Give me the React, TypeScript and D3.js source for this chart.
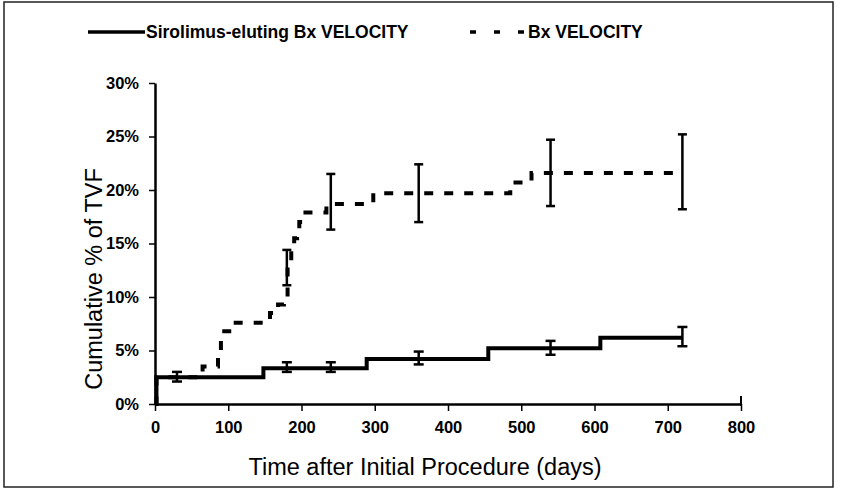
import React, { useEffect, useRef } from 'react';
import * as d3 from 'd3';

// Kaplan-Meier style cumulative TVF curves (days, %)
const sirolimusDays = [0, 2, 148, 289, 455, 608, 720];
const sirolimusPct = [0, 2.5, 3.35, 4.2, 5.2, 6.2, 6.2];

const bxDays = [0, 2, 65, 86, 90, 105, 157, 168, 176, 181, 186, 190, 194, 197, 202, 234, 298, 485, 514, 720];
const bxPct = [0, 2.5, 3.5, 5.0, 6.8, 7.6, 8.5, 9.3, 9.9, 12.8, 14.6, 15.5, 16.3, 17.0, 17.9, 18.7, 19.7, 20.7, 21.6, 21.6];

// error bars
const sirolimusErrDays = [30, 180, 240, 360, 540, 720];
const sirolimusErrLow = [2.1, 3.0, 3.0, 3.7, 4.6, 5.4];
const sirolimusErrHigh = [3.0, 3.9, 3.9, 4.9, 5.9, 7.2];

const bxErrDays = [180, 240, 360, 540, 720];
const bxErrLow = [11.1, 16.3, 17.0, 18.5, 18.2];
const bxErrHigh = [14.4, 21.5, 22.4, 24.7, 25.2];

const xTicks = [0, 100, 200, 300, 400, 500, 600, 700, 800];
const yTicks = [0, 5, 10, 15, 20, 25, 30];

const legendLabels = ['Sirolimus-eluting Bx VELOCITY', 'Bx VELOCITY'];
const xTitle = 'Time after Initial Procedure (days)';
const yTitle = 'Cumulative % of TVF';

const FONT = '"Liberation Sans", Arial, sans-serif';

function KMChart() {
  const svgRef = useRef<SVGSVGElement>(null);

  useEffect(() => {
    const width = 841;
    const height = 492;
    const svg = d3.select(svgRef.current);
    svg.selectAll('*').remove();
    svg.attr('width', width).attr('height', height);

    svg.append('rect').attr('width', width).attr('height', height).attr('fill', '#fff');
    // outer frame
    svg.append('rect')
      .attr('x', 4).attr('y', 2).attr('width', 829).attr('height', 485)
      .attr('fill', 'none').attr('stroke', '#222').attr('stroke-width', 1.5);

    const x = d3.scaleLinear().domain([0, 800]).range([155, 741]);
    const y = d3.scaleLinear().domain([0, 30]).range([404, 83]);

    // axes
    const xAxis = svg.append('g')
      .attr('transform', `translate(0,${y(0)})`)
      .call(d3.axisBottom(x).tickValues(xTicks).tickSize(7).tickSizeOuter(0).tickPadding(10).tickFormat(d3.format('d')));
    xAxis.select('.domain').attr('stroke', '#000').attr('stroke-width', 2.5);
    xAxis.selectAll('.tick line').attr('stroke', '#000').attr('stroke-width', 1.5);
    xAxis.selectAll('text')
      .attr('fill', '#000').attr('font-family', FONT).attr('font-weight', 'bold').attr('font-size', 16.5);
    // small cap at the end of the x axis
    svg.append('line')
      .attr('x1', x(800)).attr('x2', x(800)).attr('y1', y(0) - 8).attr('y2', y(0) + 2)
      .attr('stroke', '#000').attr('stroke-width', 2);

    const yAxis = svg.append('g')
      .attr('transform', `translate(${x(0)},0)`)
      .call(d3.axisLeft(y).tickValues(yTicks).tickSize(6).tickSizeOuter(0).tickPadding(10).tickFormat(d => `${d}%`));
    yAxis.select('.domain').attr('stroke', '#000').attr('stroke-width', 2.5);
    yAxis.selectAll('.tick line').attr('stroke', '#000').attr('stroke-width', 1.5);
    yAxis.selectAll('text')
      .attr('fill', '#000').attr('font-family', FONT).attr('font-weight', 'bold').attr('font-size', 16.5);

    // axis titles
    svg.append('text')
      .attr('x', 425).attr('y', 475)
      .attr('text-anchor', 'middle')
      .attr('font-family', FONT).attr('font-size', 23.5).attr('fill', '#000')
      .text(xTitle);
    svg.append('text')
      .attr('transform', `translate(102,279) rotate(-90)`)
      .attr('text-anchor', 'middle')
      .attr('font-family', FONT).attr('font-size', 23.5).attr('fill', '#000')
      .text(yTitle);

    const sirolimus = sirolimusDays.map((d, i) => [x(d), y(sirolimusPct[i])] as [number, number]);
    const bx = bxDays.map((d, i) => [x(d), y(bxPct[i])] as [number, number]);

    svg.append('path')
      .attr('d', d3.line().curve(d3.curveStepAfter)(bx))
      .attr('fill', 'none').attr('stroke', '#000').attr('stroke-width', 4)
      .attr('stroke-dasharray', '9,11');

    svg.append('path')
      .attr('d', d3.line().curve(d3.curveStepAfter)(sirolimus))
      .attr('fill', 'none').attr('stroke', '#000').attr('stroke-width', 4);

    // error bars
    const drawErr = (days: number[], lo: number[], hi: number[], cap: number) => {
      const g = svg.append('g').attr('stroke', '#000');
      days.forEach((d, i) => {
        g.append('line')
          .attr('x1', x(d)).attr('x2', x(d)).attr('y1', y(lo[i])).attr('y2', y(hi[i]))
          .attr('stroke-width', 2.5);
        [lo[i], hi[i]].forEach(v => {
          g.append('line')
            .attr('x1', x(d) - cap / 2).attr('x2', x(d) + cap / 2).attr('y1', y(v)).attr('y2', y(v))
            .attr('stroke-width', 2.5);
        });
      });
    };
    drawErr(sirolimusErrDays, sirolimusErrLow, sirolimusErrHigh, 10);
    drawErr(bxErrDays, bxErrLow, bxErrHigh, 9);

    // legend
    const legend = svg.append('g');
    legend.append('line')
      .attr('x1', 88).attr('x2', 145).attr('y1', 32).attr('y2', 32)
      .attr('stroke', '#000').attr('stroke-width', 3.5);
    legend.append('text')
      .attr('x', 146).attr('y', 38)
      .attr('font-family', FONT).attr('font-weight', 'bold').attr('font-size', 17.5).attr('fill', '#000')
      .text(legendLabels[0]);
    legend.append('line')
      .attr('x1', 470).attr('x2', 528).attr('y1', 32).attr('y2', 32)
      .attr('stroke', '#000').attr('stroke-width', 3.5)
      .attr('stroke-dasharray', '6,18');
    legend.append('text')
      .attr('x', 528).attr('y', 38)
      .attr('font-family', FONT).attr('font-weight', 'bold').attr('font-size', 17.5).attr('fill', '#000')
      .text(legendLabels[1]);
  }, []);

  return <svg ref={svgRef} style={{ display: 'block' }}></svg>;
}

export default function App() {
  return (
    <div style={{ position: 'absolute', left: 0, top: 0 }}>
      <KMChart />
    </div>
  );
}
